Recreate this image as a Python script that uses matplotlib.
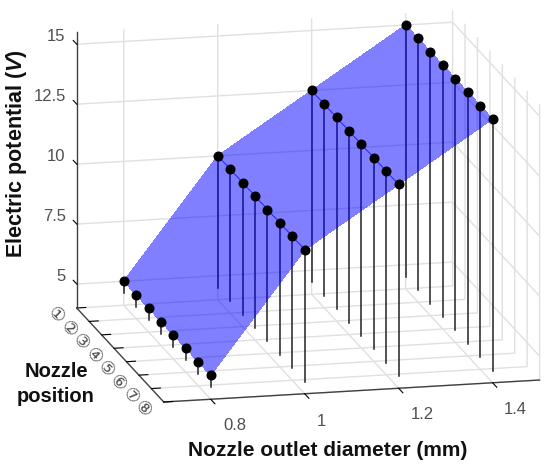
import numpy as np
import matplotlib
matplotlib.use("Agg")
import matplotlib.pyplot as plt
from mpl_toolkits.mplot3d import proj3d

# Data
diameters = [0.8, 1.0, 1.2, 1.4]
positions = [1, 2, 3, 4, 5, 6, 7, 8]
potential_08 = [5, 5, 5, 5, 5, 5, 5, 5]
potential_10 = [10, 10, 10, 10, 10, 10, 10, 10]
potential_12 = [12.5, 12.5, 12.5, 12.5, 12.5, 12.5, 12.5, 12.5]
potential_14 = [15, 15, 15, 15, 15, 15, 15, 15]
stem_base = 4.5

x_ticks = [0.8, 1, 1.2, 1.4]
x_labels = ["0.8", "1", "1.2", "1.4"]
z_ticks = [5, 7.5, 10, 12.5, 15]
z_labels = ["5", "7.5", "10", "12.5", "15"]
y_labels = ["①", "②", "③", "④", "⑤", "⑥", "⑦", "⑧"]

W, H = 550, 471
plt.rcParams["font.family"] = ["Liberation Sans", "DejaVu Sans"]
plt.rcParams["mathtext.fontset"] = "custom"
plt.rcParams["mathtext.bfit"] = "Liberation Sans:italic:bold"

fig = plt.figure(figsize=(W / 100, H / 100), dpi=100)
# square axes given in pixels, so the box can be placed by hand
size, left, bottom = 560, 20.6, -22.7
ax = fig.add_axes([left / W, bottom / H, size / W, size / H],
                  projection="3d", proj_type="ortho", computed_zorder=False)
ax.view_init(elev=14.56, azim=-103.1)
ax.set_box_aspect((386, 384, 285), zoom=1.065)

ax.set_xlim(0.7, 1.5)
ax.set_ylim(8, 1)
ax.set_zlim(4, 15.5)

X, Y = np.meshgrid(diameters, positions)
Z = np.array([potential_08, potential_10, potential_12, potential_14]).T

# stems first, the see-through surface tints them
for i in range(len(positions)):
    for j in range(len(diameters)):
        ax.plot([X[i, j], X[i, j]], [Y[i, j], Y[i, j]], [stem_base, Z[i, j]],
                color="#222222", lw=1.1, zorder=2)

ax.plot_surface(X, Y, Z, color=(0, 0, 1, 0.5), shade=False, linewidth=0,
                edgecolor="none", antialiased=False, rstride=7, cstride=1, zorder=3)
ax.plot(X.ravel(), Y.ravel(), Z.ravel(), ls="none", marker="o", ms=6.2,
        color="black", zorder=4)

# tick labels are placed by hand below, mplot3d can't offset them this way
ax.set_xticks(x_ticks)
ax.set_xticklabels([])
ax.set_yticks(positions)
ax.set_yticklabels([])
ax.set_zticks(z_ticks)
ax.set_zticklabels([])

# z ticks point along the y direction in the reference
ax.zaxis._get_tickdir = lambda pos: 1

tick_out = {"x": -0.6, "y": 0.3, "z": 0.5}
for name, axis in (("x", ax.xaxis), ("y", ax.yaxis), ("z", ax.zaxis)):
    axis.set_pane_color((1, 1, 1, 1))
    axis.pane.set_edgecolor("none")
    axis.line.set_color("#404040")
    axis.line.set_linewidth(1.0)
    axis._axinfo["grid"].update(color="#e0e0e0", linewidth=1.0)
    axis._axinfo["tick"].update(color="#404040", inward_factor=0, outward_factor=tick_out[name])


def tick_text(label, point, dx, dy, **kw):
    # dx, dy in pixels from the projected tick, y going down
    a, b, _ = proj3d.proj_transform(*point, ax.get_proj())
    ax.annotate(label, xy=(a, b), xycoords="data", xytext=(dx, -dy),
                textcoords="offset pixels", va="center", annotation_clip=False,
                color="#505050", **kw)


x_dx = [24, 17, 24, 23]
x_dy = [26, 28, 26, 27]
for tick, label, dx, dy in zip(x_ticks, x_labels, x_dx, x_dy):
    tick_text(label, (tick, 8, 4), dx, dy, fontsize=12, ha="center")
for tick, label in zip(positions, y_labels):
    tick_text(label, (0.7, tick, 4), -21, 8, fontsize=13, ha="center", rotation=-45,
              rotation_mode="anchor")
for tick, label in zip(z_ticks, z_labels):
    tick_text(label, (0.7, 1, tick), -11, -8, fontsize=12, ha="right")

label_font = dict(family="Liberation Sans", fontweight="bold", color="#111111")
fig.text(328 / W, 1 - 450 / H, "Nozzle outlet diameter (mm)", fontsize=15,
         ha="center", va="center", **label_font)
fig.text(56 / W, 1 - 384 / H, "Nozzle\nposition", fontsize=14.5, ha="center",
         va="center", linespacing=1.43, **label_font)
fig.text(17 / W, 1 - 154 / H, r"Electric potential ($\mathbfit{V}$)", fontsize=15.5,
         rotation=90, ha="center", va="center", **label_font)

fig.savefig("out.png", dpi=100)
